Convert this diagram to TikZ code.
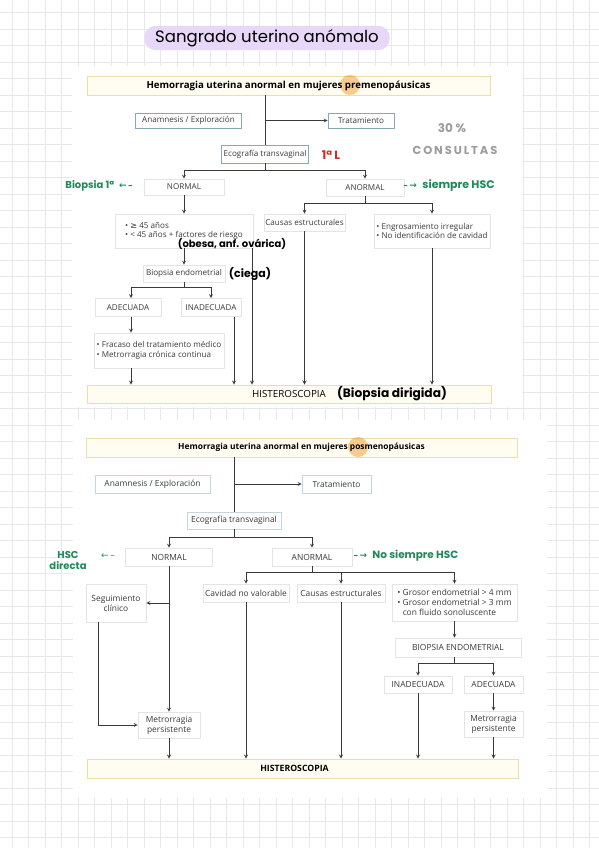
\documentclass[tikz,border=0pt]{standalone}
\usepackage{fontspec}
\setmainfont{Open Sans}
\newfontfamily\hand{Poppins}
\newfontfamily\symb{DejaVu Sans}
\definecolor{gridc}{HTML}{E8E8E8}
\definecolor{txt}{HTML}{3A3A3A}
\definecolor{tealb}{HTML}{86AAB5}
\definecolor{tealc}{HTML}{C2D7DC}
\definecolor{lightb}{HTML}{E4E4E4}
\definecolor{hdrb}{HTML}{EEDCAA}
\definecolor{hdrf}{HTML}{FFFCF2}
\definecolor{lav}{HTML}{E7D7F8}
\definecolor{hl}{HTML}{F7BE72}
\definecolor{pen}{HTML}{1E8A5A}
\definecolor{redpen}{HTML}{D42A22}
\definecolor{grypen}{HTML}{9C9C9C}
\begin{document}
\begin{tikzpicture}[x=1pt, y=-1pt]

\tikzstyle{b}=[draw=lightb, fill=white, text=txt, font=\fontsize{8.1}{9.6}\selectfont, inner sep=0pt, align=center, line width=0.6pt];
\tikzstyle{b2}=[b, font=\fontsize{8.4}{10}\selectfont];
\tikzstyle{t}=[b, draw=tealb];
\tikzstyle{bl}=[b, align=left];
\tikzstyle{h}=[b, draw=hdrb, fill=hdrf, line width=0.9pt, text=black, font=\fontsize{9.7}{11}\selectfont\bfseries];
\tikzstyle{e}=[->, >=stealth, draw=txt, line width=0.8pt];
\tikzstyle{l}=[draw=txt, line width=0.8pt];
\tikzstyle{note}=[font=\hand\fontsize{10}{11}\selectfont\bfseries, align=center, inner sep=0pt];

\useasboundingbox (0,0) rectangle (599,848);

% paper
\fill[white] (0,0) rectangle (599,848);
\foreach \i in {0,...,35} \draw[gridc, line width=0.5pt] (12+16.5*\i,0) -- (12+16.5*\i,848);
\foreach \i in {0,...,51} \draw[gridc, line width=0.5pt] (0,12.5+16.5*\i) -- (599,12.5+16.5*\i);
\fill[white] (72,66) rectangle (522,407);
\fill[white] (73,420) rectangle (547,798);

\node[fill=lav, rounded corners=11pt, minimum width=245, minimum height=23, font=\hand\fontsize{16.5}{18}\selectfont] (title) at (267,38) {Sangrado uterino anómalo};

%% premenopausicas
\node[h, minimum width=403, minimum height=19] (h1) at (288.5,85.5) {Hemorragia uterina anormal en mujeres premenopáusicas};
\fill[hl, opacity=0.75, blend mode=multiply] (350,85) circle (10);
\node[t, minimum width=106, minimum height=15] (an1) at (188.5,120.5) {Anamnesis / Exploración};
\node[t, minimum width=66, minimum height=15] (tr1) at (361,120.5) {Tratamiento};
\node[t, minimum width=87, minimum height=18] (eco1) at (265,154) {Ecografía transvaginal};
\node[b, minimum width=80, minimum height=16] (nor1) at (184,187) {NORMAL};
\node[b, minimum width=78, minimum height=17] (ano1) at (365,187.5) {ANORMAL};
\node[bl, minimum width=138, minimum height=34] (fr1) at (184,231) {• {\symb ≥} 45 años\\• < 45 años + factores de riesgo};
\node[b, minimum width=81, minimum height=17] (ce1) at (304.5,222.5) {Causas estructurales};
\node[bl, minimum width=116, minimum height=34] (en1) at (432,231) {• Engrosamiento irregular\\• No identificación de cavidad};
\node[b, minimum width=82, minimum height=17] (bi1) at (184,273.5) {Biopsia endometrial};
\node[b, minimum width=66, minimum height=18] (ad1) at (128,307.5) {ADECUADA};
\node[b, minimum width=60, minimum height=18] (in1) at (211,307.5) {INADECUADA};
\node[bl, minimum width=130, minimum height=35] (fm1) at (159,350.5) {• Fracaso del tratamiento médico\\• Metrorragia crónica continua};
\node[h, minimum width=404, minimum height=18, font=\fontsize{9.8}{11}\selectfont] (hs1) at (289,394) {HISTEROSCOPIA};

\coordinate (j1) at (265,170);
\coordinate (j2) at (365,203);
\coordinate (j3) at (184,287);

\draw[l] (eco1 |- h1.south) -- (eco1);
\draw[e] (eco1 |- tr1) -- (tr1);
\draw[l] (eco1) -- (j1);
\draw[e] (j1) -| (nor1);
\draw[e] (j1) -| (ano1);
\draw[l] (ano1) -- (j2);
\draw[e] (j2) -| (ce1);
\draw[e] (j2) -| (en1);
\draw[e] (nor1) -- (fr1);
\draw[e] (fr1) -- (bi1);
\draw[e] ([xshift=68]fr1.south) -- ([xshift=68]fr1.south |- hs1.north);
\draw[l] (bi1) -- (j3);
\draw[e] (j3) -| ([xshift=3]ad1.north);
\draw[e] (j3) -| (in1);
\draw[e] ([xshift=3]ad1.south) -- ([xshift=3]ad1.south |- fm1.north);
\draw[e] ([xshift=3]ad1.south |- fm1.south) -- ([xshift=3]ad1.south |- hs1.north);
\draw[e] ([xshift=23]in1.south) -- ([xshift=23]in1.south |- hs1.north);
\draw[e] (ce1) -- (ce1 |- hs1.north);
\draw[e] (en1) -- (en1 |- hs1.north);

\node[note, text=redpen, font=\hand\fontsize{12}{13}\selectfont\bfseries] (n_linea) at (331,155) {1ª L};
\node[note, text=grypen, font=\hand\fontsize{12}{14}\selectfont\bfseries] (n_30) at (452,128) {30 \%};
\node[note, text=grypen, font=\hand\fontsize{11.5}{14}\selectfont\bfseries] (n_cons) at (455,150) {C\,O\,N\,S\,U\,L\,T\,A\,S};
\node[note, text=pen] (n_bio) at (99,186) {Biopsia 1ª\enspace{\symb\fontsize{9}{10}\selectfont ←\,–}};
\node[note, text=pen, font=\hand\fontsize{11}{12}\selectfont\bfseries] (n_siem) at (449,186) {{\symb\fontsize{9}{10}\selectfont –\,→}\enspace siempre HSC};
\node[note] (n_obesa) at (232,244) {(obesa, anf. ovárica)};
\node[note, font=\hand\fontsize{11}{12}\selectfont\bfseries] (n_ciega) at (250,274) {(ciega)};
\node[note, font=\hand\fontsize{12.2}{13}\selectfont\bfseries] (n_dir) at (392,394) {(Biopsia dirigida)};

%% posmenopausicas
\node[h, minimum width=431, minimum height=19, font=\fontsize{8.4}{10}\selectfont\bfseries] (h2) at (301.5,447.5) {Hemorragia uterina anormal en mujeres posmenopáusicas};
\fill[hl, opacity=0.75, blend mode=multiply] (358,447) circle (10);
\node[b2, draw=tealc, minimum width=115, minimum height=18] (an2) at (152.5,484) {Anamnesis / Exploración};
\node[b2, draw=tealc, minimum width=69, minimum height=18] (tr2) at (336.5,484) {Tratamiento};
\node[b2, draw=tealc, minimum width=94, minimum height=17] (eco2) at (234,520.5) {Ecografía transvaginal};
\node[b2, minimum width=87, minimum height=18] (nor2) at (169,557) {NORMAL};
\node[b2, minimum width=80, minimum height=18] (ano2) at (312,557) {ANORMAL};
\node[b2, minimum width=60, minimum height=38] (se2) at (116,603) {Seguimiento\\clínico};
\node[b2, minimum width=86, minimum height=18] (cv2) at (246,593) {Cavidad no valorable};
\node[b2, minimum width=88, minimum height=18] (ce2) at (341,593) {Causas estructurales};
\node[b2, align=left, minimum width=125, minimum height=37] (gr2) at (454.5,602.5) {• Grosor endometrial > 4 mm\\• Grosor endometrial > 3 mm\\\phantom{• }con fluido sonoluscente};
\node[b2, minimum width=126, minimum height=19] (bi2) at (458,647.5) {BIOPSIA ENDOMETRIAL};
\node[b2, minimum width=68, minimum height=17] (in2) at (418,684.5) {INADECUADA};
\node[b2, minimum width=59, minimum height=17] (ad2) at (493.5,684.5) {ADECUADA};
\node[b2, minimum width=62, minimum height=26] (me2a) at (169,725) {Metrorragia\\persistente};
\node[b2, minimum width=59, minimum height=26] (me2b) at (493.5,724) {Metrorragia\\persistente};
\node[h, minimum width=431, minimum height=19, font=\fontsize{8.7}{10}\selectfont\bfseries] (hs2) at (302.5,768.5) {\hspace*{-16pt}HISTEROSCOPIA};

\coordinate (j4) at (234,537);
\coordinate (j5) at (312,572);
\coordinate (j6) at (454,663);

\draw[l] (eco2 |- h2.south) -- (eco2);
\draw[e] (eco2 |- tr2) -- (tr2);
\draw[l] (eco2) -- (j4);
\draw[e] (j4) -| (nor2);
\draw[e] (j4) -| (ano2);
\draw[l] (ano2) -- (j5);
\draw[e] (j5) -| (cv2);
\draw[e] (j5) -| (ce2);
\draw[e] (j5) -| (gr2);
\draw[e] (nor2) -- (me2a);
\draw[e] (nor2 |- se2) -- (se2);
\draw[e] ([xshift=-18]se2.south) |- (me2a);
\draw[e] (me2a) -- (me2a |- hs2.north);
\draw[e] (cv2) -- (cv2 |- hs2.north);
\draw[e] (ce2) -- (ce2 |- hs2.north);
\draw[e] (gr2) -- (gr2 |- bi2.north);
\draw[l] (j6 |- bi2.south) -- (j6);
\draw[e] (j6) -| (in2);
\draw[e] (j6) -| (ad2);
\draw[e] (in2) -- (in2 |- hs2.north);
\draw[e] (ad2) -- (me2b);
\draw[e] (me2b) -- (me2b |- hs2.north);

\node[note, text=pen] (n_hsc) at (68,560) {HSC\\directa};
\node[note, text=pen, font=\symb\fontsize{9}{10}\selectfont] (n_fl) at (108,556) {←\,–};
\node[note, text=pen, font=\hand\fontsize{10.5}{11}\selectfont\bfseries] (n_nosiem) at (406,556) {{\symb\fontsize{9}{10}\selectfont –\,→}\enspace No siempre HSC};
\end{tikzpicture}
\end{document}
